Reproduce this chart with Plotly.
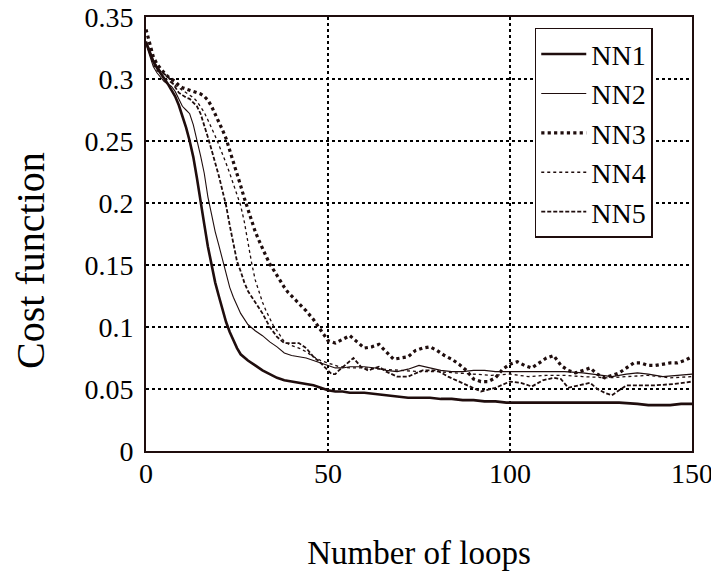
import plotly.graph_objects as go

# ---------------- data ----------------
nn1_x = [0,1,2,3,4,5,6,7,8,9,10,11,12,13,14,15,16,17,18,19,20,21,22,23,24,25,26,28,30,32,34,36,38,40,42,44,46,48,50,52,54,56,58,60,63,66,69,72,75,78,81,84,87,90,93,96,99,102,105,110,115,120,125,130,135,138,141,144,147,150]
nn1_y = [0.330,0.322,0.314,0.309,0.305,0.300,0.296,0.291,0.286,0.279,0.270,0.261,0.250,0.237,0.220,0.200,0.183,0.165,0.150,0.136,0.125,0.114,0.104,0.096,0.089,0.083,0.078,0.073,0.069,0.065,0.062,0.059,0.057,0.056,0.055,0.054,0.053,0.051,0.049,0.048,0.048,0.047,0.047,0.047,0.046,0.045,0.044,0.043,0.043,0.043,0.042,0.042,0.041,0.041,0.040,0.040,0.039,0.039,0.039,0.039,0.039,0.039,0.039,0.039,0.038,0.037,0.037,0.037,0.038,0.038]

nn2_x = [0,1,2,3,4,5,6,7,8,9,10,11,12,13,14,15,16,17,18,19,20,21,22,23,24,25,26,28,30,32,34,36,38,40,42,44,46,48,50,52,54,56,58,60,63,66,69,72,75,78,81,84,87,90,93,96,99,102,105,110,115,120,125,128,132,135,138,142,146,150]
nn2_y = [0.328,0.318,0.310,0.305,0.301,0.298,0.296,0.294,0.290,0.284,0.278,0.275,0.272,0.263,0.251,0.238,0.224,0.205,0.191,0.177,0.166,0.155,0.143,0.132,0.124,0.117,0.111,0.102,0.097,0.093,0.088,0.084,0.079,0.077,0.076,0.075,0.073,0.071,0.069,0.067,0.067,0.068,0.068,0.068,0.067,0.065,0.064,0.066,0.069,0.067,0.065,0.064,0.064,0.065,0.065,0.064,0.064,0.064,0.064,0.064,0.064,0.063,0.061,0.060,0.062,0.063,0.062,0.060,0.061,0.062]

nn3_x = [0,1,2,3,4,5,6,7,8,9,10,11,12,13,14,15,16,17,18,19,20,21,22,23,24,25,26,27,28,29,30,31,32,33,34,35,36,37,38,39,40,42,44,46,48,50,52,54,56,58,60,62,64,66,68,70,72,74,76,78,80,82,84,86,88,90,92,94,96,98,100,102,104,106,108,110,112,114,116,118,120,122,124,126,128,130,132,134,136,138,140,142,144,146,148,150]
nn3_y = [0.340,0.330,0.318,0.312,0.308,0.305,0.302,0.300,0.298,0.295,0.293,0.292,0.291,0.290,0.289,0.288,0.286,0.283,0.278,0.272,0.266,0.259,0.252,0.243,0.233,0.223,0.214,0.204,0.195,0.185,0.177,0.170,0.163,0.157,0.151,0.146,0.141,0.136,0.132,0.128,0.125,0.119,0.113,0.106,0.097,0.089,0.087,0.090,0.093,0.088,0.083,0.084,0.086,0.080,0.074,0.075,0.076,0.081,0.083,0.084,0.081,0.077,0.074,0.070,0.065,0.058,0.056,0.056,0.059,0.066,0.070,0.072,0.069,0.067,0.071,0.075,0.077,0.069,0.065,0.063,0.065,0.067,0.062,0.059,0.061,0.063,0.067,0.071,0.071,0.069,0.069,0.070,0.071,0.071,0.073,0.076]

nn4_x = [0,1,2,3,4,5,6,7,8,9,10,11,12,13,14,15,16,17,18,19,20,21,22,23,24,25,26,27,28,29,30,31,32,33,34,35,36,37,38,40,42,44,46,48,50,53,56,60,65,70,75,80,85,90,95,100,105,110,115,120,127,132,138,144,150]
nn4_y = [0.330,0.320,0.312,0.307,0.304,0.301,0.299,0.297,0.295,0.293,0.291,0.289,0.287,0.285,0.282,0.278,0.273,0.267,0.261,0.254,0.247,0.240,0.232,0.224,0.215,0.207,0.198,0.185,0.168,0.152,0.138,0.128,0.120,0.113,0.107,0.101,0.097,0.092,0.088,0.085,0.083,0.080,0.076,0.073,0.071,0.068,0.067,0.067,0.066,0.065,0.064,0.064,0.063,0.062,0.061,0.062,0.060,0.061,0.061,0.060,0.059,0.060,0.061,0.059,0.060]

nn5_x = [0,1,2,3,4,5,6,7,8,9,10,11,12,13,14,15,16,17,18,19,20,21,22,23,24,25,26,27,28,30,32,34,36,38,40,42,44,46,48,50,51,52,53,55,57,59,61,64,66,69,72,76,80,83,86,89,92,96,100,103,106,109,112,114,116,119,122,124,126,128,130,132,136,140,145,150]
nn5_y = [0.330,0.322,0.315,0.310,0.306,0.304,0.302,0.298,0.293,0.289,0.287,0.285,0.284,0.281,0.278,0.272,0.263,0.253,0.243,0.233,0.222,0.210,0.198,0.182,0.166,0.153,0.145,0.136,0.129,0.120,0.111,0.100,0.092,0.087,0.087,0.087,0.083,0.076,0.071,0.065,0.062,0.062,0.065,0.070,0.075,0.068,0.065,0.068,0.064,0.060,0.060,0.065,0.065,0.060,0.056,0.052,0.048,0.051,0.056,0.055,0.052,0.057,0.059,0.058,0.051,0.053,0.055,0.050,0.047,0.045,0.049,0.053,0.053,0.053,0.054,0.056]

names = ["NN1", "NN2", "NN3", "NN4", "NN5"]
x_ticks = [0, 50, 100, 150]
y_ticks = [0, 0.05, 0.1, 0.15, 0.2, 0.25, 0.3, 0.35]
y_tick_text = ["0", "0.05", "0.1", "0.15", "0.2", "0.25", "0.3", "0.35"]
x_title = "Number of loops"
y_title = "Cost function"

# ---------------- figure ----------------
ink = "#1f0d0d"
font = "Liberation Serif, Times New Roman, serif"

styles = [
    dict(width=2.6, dash="solid"),
    dict(width=1.1, dash="solid"),
    dict(width=3.2, dash="dot"),
    dict(width=1.3, dash="dot"),
    dict(width=1.8, dash="4px,2px"),
]
series = [(nn1_x, nn1_y), (nn2_x, nn2_y), (nn3_x, nn3_y), (nn4_x, nn4_y), (nn5_x, nn5_y)]

fig = go.Figure()
for name, (xs, ys), st in zip(names, series, styles):
    fig.add_trace(go.Scatter(
        x=xs, y=ys, name=name, mode="lines",
        line=dict(color=ink, width=st["width"], dash=st["dash"]),
    ))

# the page body has an 8px margin, so the figure is sized/offset to compensate
fig.update_layout(
    width=711, height=563,
    margin=dict(l=138, r=27, t=9, b=120),
    paper_bgcolor="white", plot_bgcolor="white",
    font=dict(family=font, size=28, color="black"),
    showlegend=True,
    legend=dict(
        x=0.712, y=0.975, xanchor="left", yanchor="top",
        bordercolor=ink, borderwidth=1.5, bgcolor="white",
        font=dict(family=font, size=28, color="black"),
        itemwidth=45, entrywidth=100, entrywidthmode="pixels",
    ),
    annotations=[dict(
        text=y_title, textangle=-90, xref="paper", yref="paper",
        x=-0.2106, y=0.438, xanchor="center", yanchor="middle",
        showarrow=False, font=dict(family=font, size=40, color="black"),
    )],
)
fig.update_xaxes(
    range=[0, 150], tickvals=x_ticks, ticktext=[str(v) for v in x_ticks],
    showline=True, mirror=True, linecolor=ink, linewidth=2,
    showgrid=True, gridcolor="black", gridwidth=1.5, griddash="dot",
    zeroline=False, ticks="", ticklabelstandoff=-4, automargin=False,
    ticklabeloverflow="allow",
    title=dict(text=x_title, font=dict(family=font, size=33), standoff=58),
)
fig.update_yaxes(
    range=[0, 0.35], tickvals=y_ticks, ticktext=y_tick_text,
    showline=True, mirror=True, linecolor=ink, linewidth=2,
    showgrid=True, gridcolor="black", gridwidth=1.5, griddash="dot",
    zeroline=False, ticks="", ticklabelstandoff=5, automargin=False,
    ticklabeloverflow="allow",
)

fig.write_html("out.html")
